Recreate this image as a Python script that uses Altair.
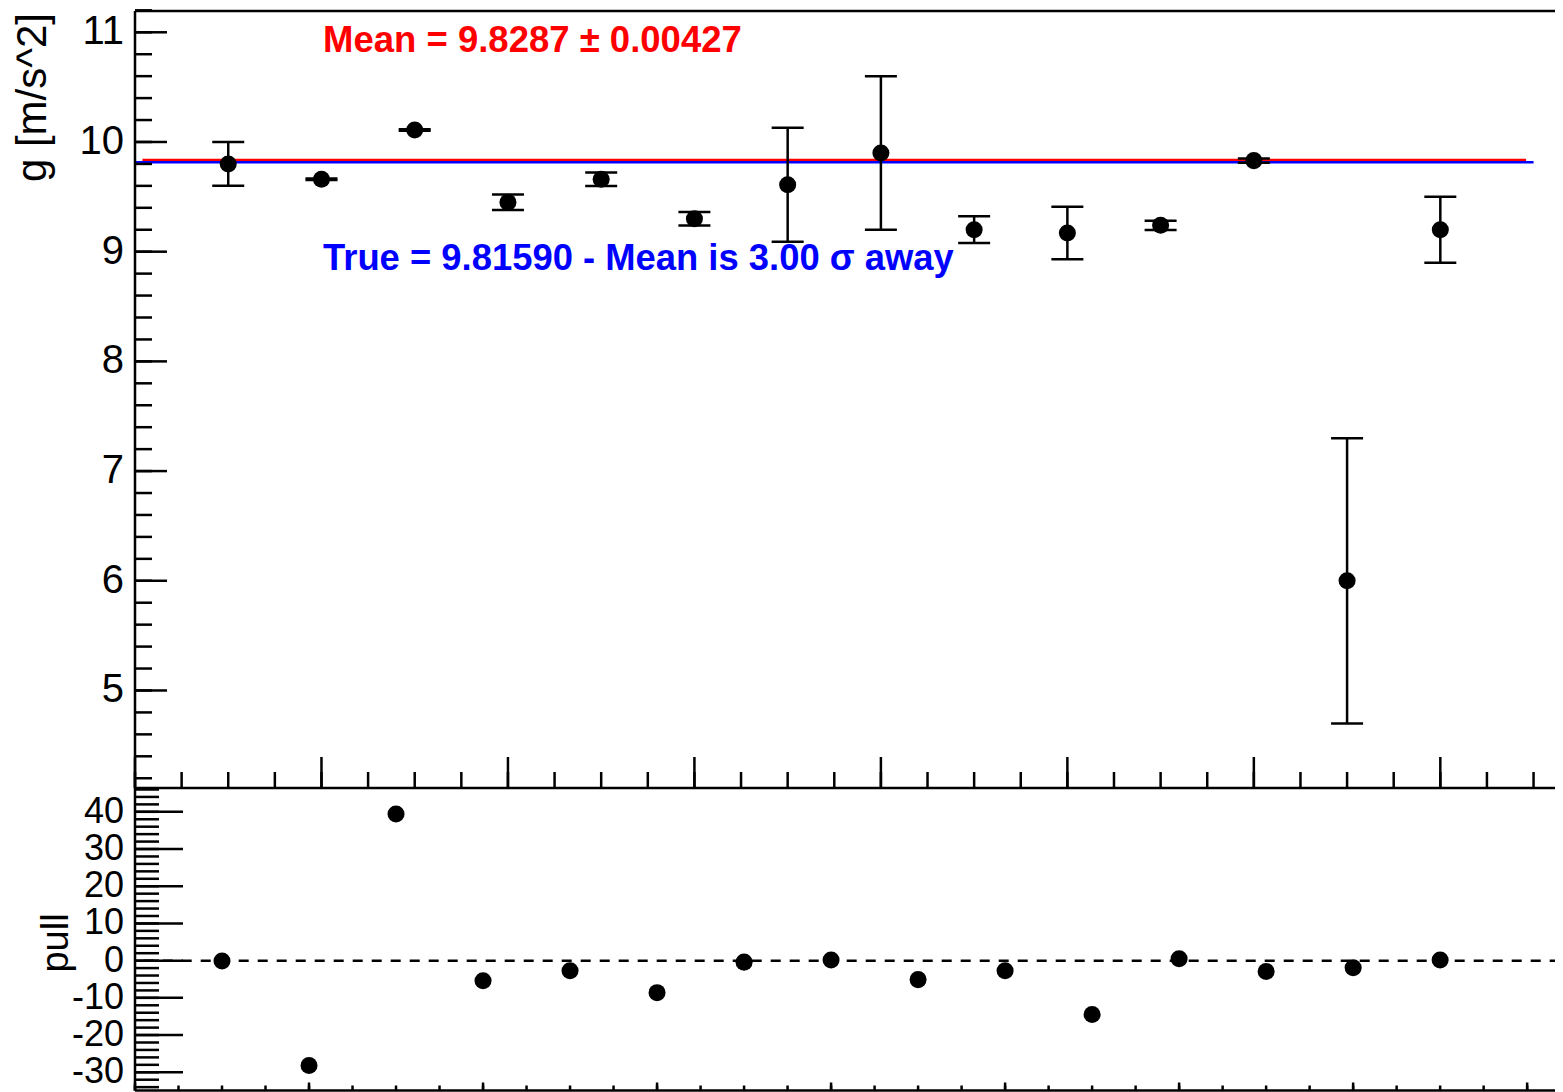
import altair as alt
import pandas as pd

# ---------------- data ----------------
g_index = [1, 2, 3, 4, 5, 6, 7, 8, 9, 10, 11, 12, 13, 14]
g_values = [9.80, 9.66, 10.11, 9.45, 9.66, 9.30, 9.61, 9.90, 9.20, 9.17, 9.24, 9.83, 6.00, 9.20]
g_errors = [0.20, 0.006, 0.007, 0.071, 0.061, 0.062, 0.52, 0.70, 0.122, 0.239, 0.042, 0.02, 1.30, 0.30]

pull_index = [1, 2, 3, 4, 5, 6, 7, 8, 9, 10, 11, 12, 13, 14, 15]
pull_values = [-0.1, -28.2, 39.4, -5.4, -2.7, -8.6, -0.4, 0.2, -5.1, -2.7, -14.5, 0.5, -2.9, -1.9, 0.2]

MEAN = 9.8287
MEAN_ERR = 0.00427
TRUE_G = 9.81590
N_SIGMA = 3.00

# axis ranges / ticks
TOP_X = [0, 15.23]
TOP_Y = [4.111, 11.194]
BOT_X = [0, 16.32]
BOT_Y = [-34.9, 46.4]

top_y_major = [5, 6, 7, 8, 9, 10, 11]
top_y_minor = [round(4.2 + 0.2 * i, 2) for i in range(36)]
top_x_major = [0, 2, 4, 6, 8, 10, 12, 14]
top_x_minor = [0.5 * i for i in range(31)]
bot_y_major = [-30, -20, -10, 0, 10, 20, 30, 40]
bot_y_minor = [-34 + 2 * i for i in range(41)]
bot_x_major = [0, 2, 4, 6, 8, 10, 12, 14, 16]
bot_x_minor = [0.5 * i for i in range(33)]

FONT = "Liberation Sans"
W = 1420
H_TOP = 777
H_ALL = 1079.5
LW = 2.5

# ---------------- tables ----------------
g_df = pd.DataFrame({"x": g_index, "y": g_values, "err": g_errors})
g_df["lo"] = g_df["y"] - g_df["err"]
g_df["hi"] = g_df["y"] + g_df["err"]
pull_df = pd.DataFrame({"x": pull_index, "y": pull_values})

xs_t = alt.Scale(domain=TOP_X, nice=False, zero=False)
ys_t = alt.Scale(domain=TOP_Y, range=[H_TOP, 0], nice=False, zero=False)
xs_b = alt.Scale(domain=BOT_X, nice=False, zero=False)
ys_b = alt.Scale(domain=BOT_Y, range=[H_ALL, H_TOP], nice=False, zero=False)


def XT(f="x"):
    return alt.X(f"{f}:Q", scale=xs_t, axis=None)


def YT(f="y"):
    return alt.Y(f"{f}:Q", scale=ys_t, axis=None)


def XB(f="x"):
    return alt.X(f"{f}:Q", scale=xs_b, axis=None)


def YB(f="y"):
    return alt.Y(f"{f}:Q", scale=ys_b, axis=None)


# ---------------- top panel ----------------
top_frame = alt.Chart(pd.DataFrame({
    "x": [TOP_X[0], TOP_X[0], TOP_X[0]],
    "x2": [TOP_X[1], TOP_X[1], TOP_X[0]],
    "y": [TOP_Y[1], TOP_Y[0], TOP_Y[0]],
    "y2": [TOP_Y[1], TOP_Y[0], TOP_Y[1]],
})).mark_rule(color="black", strokeWidth=LW).encode(
    x=XT(), x2="x2:Q", y=YT(), y2="y2:Q")

t_ymaj = alt.Chart(pd.DataFrame({"y": top_y_major})).mark_rule(color="black", strokeWidth=LW).encode(
    y=YT(), x=alt.value(0), x2=alt.value(32))
t_ymin = alt.Chart(pd.DataFrame({"y": top_y_minor})).mark_rule(color="black", strokeWidth=LW).encode(
    y=YT(), x=alt.value(0), x2=alt.value(17))
t_xmaj = alt.Chart(pd.DataFrame({"x": top_x_major})).mark_rule(color="black", strokeWidth=LW).encode(
    x=XT(), y=alt.value(H_TOP - 31), y2=alt.value(H_TOP))
t_xmin = alt.Chart(pd.DataFrame({"x": top_x_minor})).mark_rule(color="black", strokeWidth=LW).encode(
    x=XT(), y=alt.value(H_TOP - 16), y2=alt.value(H_TOP))
t_lab = alt.Chart(pd.DataFrame({"y": top_y_major, "t": [str(v) for v in top_y_major]})).mark_text(
    align="right", baseline="middle", font=FONT, fontSize=40, color="black").encode(
    y=YT(), x=alt.value(-11), text="t:N")
t_title = alt.Chart(pd.DataFrame({"t": ["g [m/s^2]"]})).mark_text(
    align="right", baseline="alphabetic", angle=270, font=FONT, fontSize=42, color="black").encode(
    x=alt.value(-89), y=alt.value(2), text="t:N")

mean_line = alt.Chart(pd.DataFrame({"x": [0.08], "x2": [14.92], "y": [MEAN]})).mark_rule(
    color="#ff0000", strokeWidth=4).encode(x=XT(), x2="x2:Q", y=YT())
true_line = alt.Chart(pd.DataFrame({"x": [0.0], "x2": [15.0], "y": [TRUE_G]})).mark_rule(
    color="#0000ff", strokeWidth=2.5).encode(x=XT(), x2="x2:Q", y=YT())

bars = alt.Chart(g_df).mark_rule(color="black", strokeWidth=LW).encode(x=XT(), y=YT("lo"), y2="hi:Q")
cap_lo = alt.Chart(g_df).mark_tick(color="black", orient="horizontal", size=32, thickness=LW, opacity=1).encode(
    x=XT(), y=YT("lo"))
cap_hi = alt.Chart(g_df).mark_tick(color="black", orient="horizontal", size=32, thickness=LW, opacity=1).encode(
    x=XT(), y=YT("hi"))
pts = alt.Chart(g_df).mark_circle(color="black", size=290, opacity=1).encode(x=XT(), y=YT())

mean_txt = alt.Chart(pd.DataFrame({"t": [f"Mean = {MEAN:.4f} \u00b1 {MEAN_ERR:.5f}"]})).mark_text(
    align="left", baseline="alphabetic", font=FONT, fontSize=36.5, fontWeight="bold", color="#ff0000").encode(
    x=alt.value(188), y=alt.value(41), text="t:N")
true_txt = alt.Chart(pd.DataFrame({"t": [f"True = {TRUE_G:.5f} - Mean is {N_SIGMA:.2f} \u03c3 away"]})).mark_text(
    align="left", baseline="alphabetic", font=FONT, fontSize=36.4, fontWeight="bold", color="#0000ff").encode(
    x=alt.value(188), y=alt.value(259), text="t:N")

top = alt.layer(mean_line, true_line, bars, cap_lo, cap_hi, pts, t_ymaj, t_ymin, t_xmaj, t_xmin,
                top_frame, t_lab, t_title, mean_txt, true_txt)

# ---------------- bottom panel ----------------
bot_frame = alt.Chart(pd.DataFrame({
    "x": [BOT_X[0], BOT_X[0]],
    "x2": [BOT_X[1], BOT_X[0]],
    "y": [BOT_Y[0], BOT_Y[0]],
    "y2": [BOT_Y[0], BOT_Y[1]],
})).mark_rule(color="black", strokeWidth=LW).encode(
    x=XB(), x2="x2:Q", y=YB(), y2="y2:Q")

b_ymaj = alt.Chart(pd.DataFrame({"y": bot_y_major})).mark_rule(color="black", strokeWidth=LW).encode(
    y=YB(), x=alt.value(0), x2=alt.value(48))
b_ymin = alt.Chart(pd.DataFrame({"y": bot_y_minor})).mark_rule(color="black", strokeWidth=LW).encode(
    y=YB(), x=alt.value(0), x2=alt.value(24))
b_xmaj = alt.Chart(pd.DataFrame({"x": bot_x_major})).mark_rule(color="black", strokeWidth=LW).encode(
    x=XB(), y=alt.value(H_ALL - 8), y2=alt.value(H_ALL))
b_xmin = alt.Chart(pd.DataFrame({"x": bot_x_minor})).mark_rule(color="black", strokeWidth=LW).encode(
    x=XB(), y=alt.value(H_ALL - 5), y2=alt.value(H_ALL))
b_lab = alt.Chart(pd.DataFrame({"y": bot_y_major, "t": [str(v) for v in bot_y_major]})).mark_text(
    align="right", baseline="middle", font=FONT, fontSize=36, color="black").encode(
    y=YB(), x=alt.value(-11), text="t:N")
b_title = alt.Chart(pd.DataFrame({"t": ["pull"]})).mark_text(
    align="center", baseline="alphabetic", angle=270, font=FONT, fontSize=38, color="black").encode(
    x=alt.value(-67), y=alt.value(932), text="t:N")

zero_line = alt.Chart(pd.DataFrame({"x": [0.1], "x2": [BOT_X[1]], "y": [0.0]})).mark_rule(
    color="black", strokeWidth=LW, strokeDash=[10, 9]).encode(x=XB(), x2="x2:Q", y=YB())
pull_pts = alt.Chart(pull_df).mark_circle(color="black", size=290, opacity=1).encode(x=XB(), y=YB())

bottom = alt.layer(zero_line, pull_pts, b_ymaj, b_ymin, b_xmaj, b_xmin, bot_frame, b_lab, b_title)

chart = alt.layer(top, bottom).resolve_scale(x="independent", y="independent").properties(
    width=W, height=1080,
    padding={"left": 127, "top": 3, "right": 0, "bottom": 2},
    autosize=alt.AutoSizeParams(type="none"),
).configure_view(stroke=None)

chart.save("out.html", embed_options={"renderer": "svg", "actions": False})
